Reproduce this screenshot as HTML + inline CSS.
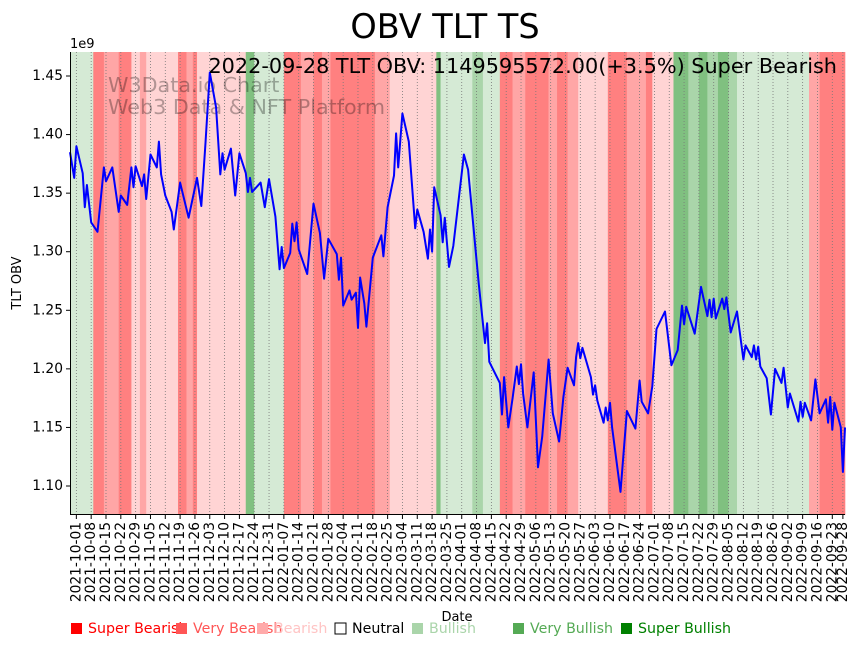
<!DOCTYPE html>
<html><head><meta charset="utf-8"><style>
body{margin:0;background:#fff;}
svg{display:block;font-family:"DejaVu Sans","Liberation Sans",sans-serif;}
</style></head><body>
<svg id="chart" width="864" height="646" viewBox="0 0 864 646" xmlns="http://www.w3.org/2000/svg">
<text x="445" y="38" font-size="33.5" text-anchor="middle">OBV TLT TS</text>
<text x="70" y="48" font-size="13">1e9</text>
<g id="bands"></g>
<g id="grid"></g>
<text x="108" y="92" font-size="20.7" fill="#000" fill-opacity="0.3">W3Data.io Chart</text>
<text x="108" y="114" font-size="20.7" fill="#000" fill-opacity="0.3">Web3 Data &amp; NFT Platform</text>
<path id="obvline" fill="none" stroke="#0000ff" stroke-width="2" stroke-linejoin="round"/>
<text x="837" y="73" font-size="20.8" text-anchor="end">2022-09-28 TLT OBV: 1149595572.00(+3.5%) Super Bearish</text>
<g id="yaxis"></g>
<g id="xaxis"></g>
<rect x="70" y="52" width="1" height="463" fill="#000"/>
<rect x="70" y="514" width="775" height="1" fill="#000"/>
<text transform="translate(21,283) rotate(-90)" font-size="13" text-anchor="middle">TLT OBV</text>
<text x="457" y="621" font-size="13" text-anchor="middle">Date</text>
<g id="legend"></g>
</svg>
<script>
const days=[0,2,3,6,7,8,10,13,16,17,20,23,24,27,29,30,31,34,35,36,38,41,42,43,45,48,49,52,56,60,62,64,66,69,71,72,73,76,78,80,83,84,85,86,90,92,94,97,99,100,101,104,105,106,107,108,112,115,118,120,122,126,127,128,129,132,133,135,136,137,139,140,143,147,148,150,153,154,155,157,160,163,164,167,169,170,171,172,175,176,177,179,181,186,188,193,196,197,198,203,204,205,207,209,211,212,213,214,216,219,221,223,226,228,231,233,235,238,239,240,241,242,246,247,248,249,252,253,254,255,256,260,263,267,269,270,273,275,277,281,284,287,289,290,291,295,298,301,302,303,304,305,308,309,310,312,315,318,319,322,323,324,325,326,329,331,333,336,337,339,340,344,345,346,347,350,352,354,357,358,359,360,361,364,365,366];
const obv=[1.385,1.363,1.390,1.367,1.338,1.357,1.325,1.317,1.372,1.360,1.372,1.334,1.348,1.340,1.372,1.355,1.373,1.356,1.366,1.345,1.383,1.372,1.394,1.366,1.348,1.334,1.319,1.359,1.329,1.363,1.339,1.393,1.453,1.423,1.366,1.384,1.370,1.388,1.348,1.384,1.367,1.351,1.363,1.351,1.359,1.338,1.362,1.330,1.285,1.304,1.286,1.299,1.324,1.309,1.325,1.302,1.281,1.341,1.316,1.277,1.311,1.298,1.276,1.295,1.254,1.267,1.259,1.265,1.235,1.278,1.256,1.236,1.295,1.314,1.296,1.338,1.365,1.401,1.372,1.418,1.394,1.320,1.336,1.317,1.294,1.319,1.300,1.355,1.331,1.308,1.329,1.287,1.305,1.383,1.370,1.273,1.222,1.239,1.206,1.188,1.161,1.193,1.150,1.175,1.202,1.187,1.204,1.179,1.150,1.197,1.116,1.142,1.208,1.162,1.138,1.176,1.201,1.186,1.210,1.222,1.209,1.218,1.193,1.178,1.186,1.173,1.154,1.167,1.156,1.171,1.150,1.095,1.164,1.149,1.190,1.172,1.162,1.185,1.234,1.249,1.203,1.216,1.254,1.238,1.253,1.230,1.270,1.245,1.259,1.244,1.260,1.243,1.260,1.251,1.261,1.231,1.249,1.208,1.220,1.210,1.220,1.208,1.219,1.202,1.192,1.161,1.200,1.188,1.201,1.167,1.179,1.155,1.172,1.159,1.171,1.156,1.191,1.162,1.174,1.154,1.176,1.148,1.171,1.150,1.112,1.150];
const bandStart=[0,11,16,23,29,33,36,51,55,58,60,83,87,101,109,115,119,123,144,151,173,175,190,195,203,209,215,226,230,235,240,254,263,272,275,285,292,297,301,306,311,315,349,354];
const bandEnd=[11,16,23,29,33,36,51,55,58,60,83,87,101,109,115,119,123,144,151,173,175,190,195,203,209,215,226,230,235,240,254,263,272,275,285,292,297,301,306,311,315,349,354,366];
const bandLevel=[1,-3,-2,-3,-1,-2,-1,-3,-2,-3,-1,3,1,-3,-2,-3,-2,-3,-2,-1,3,1,2,1,-3,-2,-3,-2,-3,-2,-1,-3,-2,-3,-1,3,2,3,2,3,2,1,-2,-3];
const yTicks=[1.10,1.15,1.20,1.25,1.30,1.35,1.40,1.45];
const tickDays=[3,10,17,24,31,38,45,52,59,66,73,80,87,94,101,108,115,122,129,136,143,150,157,164,171,178,185,192,199,206,213,220,227,234,241,248,255,262,269,276,283,290,297,304,311,318,325,332,339,346,353,360,365];
const tickLabels=["2021-10-01","2021-10-08","2021-10-15","2021-10-22","2021-10-29","2021-11-05","2021-11-12","2021-11-19","2021-11-26","2021-12-03","2021-12-10","2021-12-17","2021-12-24","2021-12-31","2022-01-07","2022-01-14","2022-01-21","2022-01-28","2022-02-04","2022-02-11","2022-02-18","2022-02-25","2022-03-04","2022-03-11","2022-03-18","2022-03-25","2022-04-01","2022-04-08","2022-04-15","2022-04-22","2022-04-29","2022-05-06","2022-05-13","2022-05-20","2022-05-27","2022-06-03","2022-06-10","2022-06-17","2022-06-24","2022-07-01","2022-07-08","2022-07-15","2022-07-22","2022-07-29","2022-08-05","2022-08-12","2022-08-19","2022-08-26","2022-09-02","2022-09-09","2022-09-16","2022-09-23","2022-09-28"];
const legendLabels=["Super Bearish","Very Bearish","Bearish","Neutral","Bullish","Very Bullish","Super Bullish"];
const legendColors=["#ff0000","#ff5555","#ffaaaa","none","#aad5aa","#55aa55","#008000"];
const legendX=[71,176,257,335,412,513,621];

const NS="http://www.w3.org/2000/svg";
const X0=70,X1=845,Y0=52,Y1=515,D0=0,D1=366;
function xs(d){return X0+(d-D0)/(D1-D0)*(X1-X0);}
function ys(v){return 486+(1.10-v)/0.05*58.57;}
function mk(tag,attrs,parent){const e=document.createElementNS(NS,tag);for(const k in attrs)e.setAttribute(k,attrs[k]);parent.appendChild(e);return e;}
const bandColor={"-3":"#ff8080","-2":"#ffa6a6","-1":"#ffd4d4","1":"#d5ead5","2":"#aad5aa","3":"#80c080"};
const gB=document.getElementById('bands');
for(let i=0;i<bandStart.length;i++){
  const r=mk('rect',{x:xs(bandStart[i]),y:Y0,width:xs(bandEnd[i])-xs(bandStart[i])+0.3,height:Y1-Y0,fill:bandColor[bandLevel[i]]},gB);
  
  
}
const gG=document.getElementById('grid'),gX=document.getElementById('xaxis');
for(let i=0;i<tickDays.length;i++){
  const x=xs(tickDays[i]);
  const l=mk('line',{x1:x,x2:x,y1:Y0,y2:Y1,stroke:'#777',"stroke-width":0.8,"stroke-dasharray":"1,2"},gG);
  
  
  const t=mk('line',{x1:x,x2:x,y1:Y1,y2:Y1+4,stroke:'#000'},gX);
  
  
  const tx=mk('text',{x:x,y:Y1+7,"font-size":13.8,"text-anchor":"end","dominant-baseline":"central",transform:`rotate(-90 ${x} ${Y1+7})`},gX);
  tx.textContent=tickLabels[i];
  
  
}
const gY=document.getElementById('yaxis');
yTicks.forEach(v=>{
  const y=ys(v);
  const t=mk('line',{x1:X0-4,x2:X0,y1:y,y2:y,stroke:'#000'},gY);
  
  
  const tx=mk('text',{x:X0-7,y:y,"font-size":13.8,"text-anchor":"end","dominant-baseline":"central"},gY);
  tx.textContent=v.toFixed(2);
  
  
});
let d='';
for(let i=0;i<days.length;i++){d+=(i?'L':'M')+xs(days[i]).toFixed(1)+','+ys(obv[i]).toFixed(1);}
document.getElementById('obvline').setAttribute('d',d);
const gL=document.getElementById('legend');
for(let i=0;i<legendLabels.length;i++){
  const sq=mk('rect',{x:legendX[i],y:623,width:11,height:11,fill:legendColors[i]==='none'?'#fff':legendColors[i],stroke:legendColors[i]==='none'?'#000':'none'},gL);
  
  
  const tx=mk('text',{x:legendX[i]+17,y:629,"font-size":14.2,"dominant-baseline":"central",fill:legendColors[i]==='none'?'#000':(i===2?'#ffc4c4':legendColors[i])},gL);
  tx.textContent=legendLabels[i];
  
  
}
</script>
</body></html>
